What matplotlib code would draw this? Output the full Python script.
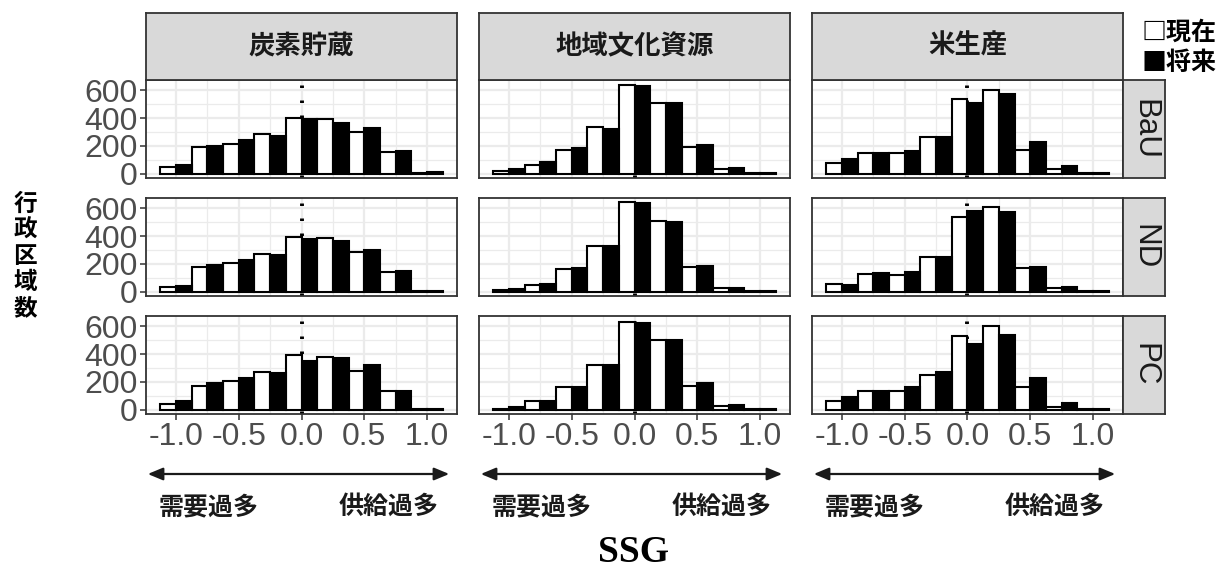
import numpy as np
import matplotlib
matplotlib.use('Agg')
import matplotlib.pyplot as plt

plt.rcParams['font.family'] = ['Liberation Sans', 'Noto Sans CJK JP', 'DejaVu Sans']
plt.rcParams['lines.scale_dashes'] = False

# bin centres (width 0.25)
bins = [-1.0, -0.75, -0.5, -0.25, 0.0, 0.25, 0.5, 0.75, 1.0]

# 炭素貯蔵
carbon_bau_now = [45, 190, 215, 287, 403, 396, 299, 154, 4]
carbon_bau_fut = [65, 195, 240, 272, 391, 367, 327, 161, 12]
carbon_nd_now = [30, 176, 208, 269, 392, 384, 282, 140, 3]
carbon_nd_fut = [40, 191, 225, 262, 380, 367, 299, 147, 5]
carbon_pc_now = [41, 173, 204, 274, 396, 382, 281, 137, 3]
carbon_pc_fut = [58, 190, 228, 266, 353, 370, 324, 137, 3]

# 地域文化資源
culture_bau_now = [20, 65, 173, 339, 640, 510, 190, 30, 4]
culture_bau_fut = [30, 80, 185, 322, 630, 505, 209, 40, 4]
culture_nd_now = [8, 49, 164, 326, 642, 509, 179, 25, 3]
culture_nd_fut = [18, 54, 167, 326, 638, 502, 186, 25, 3]
culture_pc_now = [6, 60, 166, 324, 634, 504, 173, 24, 3]
culture_pc_fut = [17, 65, 161, 322, 624, 500, 192, 31, 3]

# 米生産
rice_bau_now = [73, 145, 145, 263, 535, 604, 173, 35, 5]
rice_bau_fut = [102, 145, 160, 265, 505, 571, 225, 55, 5]
rice_nd_now = [56, 127, 122, 250, 539, 607, 167, 25, 3]
rice_nd_fut = [44, 135, 142, 250, 580, 571, 179, 30, 3]
rice_pc_now = [65, 132, 132, 250, 533, 605, 166, 17, 3]
rice_pc_fut = [94, 132, 161, 274, 473, 538, 228, 46, 3]

col_labels = ['炭素貯蔵', '地域文化資源', '米生産']
row_labels = ['BaU', 'ND', 'PC']
now_data = [[carbon_bau_now, culture_bau_now, rice_bau_now],
            [carbon_nd_now, culture_nd_now, rice_nd_now],
            [carbon_pc_now, culture_pc_now, rice_pc_now]]
fut_data = [[carbon_bau_fut, culture_bau_fut, rice_bau_fut],
            [carbon_nd_fut, culture_nd_fut, rice_nd_fut],
            [carbon_pc_fut, culture_pc_fut, rice_pc_fut]]

W, H = 1225, 578
fig = plt.figure(figsize=(W/100, H/100), dpi=100)

def rect(l, t, r, b):
    return [l/W, 1 - b/H, (r - l)/W, (b - t)/H]

col_left = [146, 479, 812]
pw = 311
row_top = [80, 198, 316]
ph = 98
dark = '#333333'
bw = 0.125

ymax = max(max(max(v) for v in r) for r in now_data + fut_data)
ylim = (-0.05*ymax, 1.05*ymax)
xlim = (-1.2375, 1.2375)

for i in range(3):
    for j in range(3):
        ax = fig.add_axes(rect(col_left[j], row_top[i], col_left[j] + pw, row_top[i] + ph))
        ax.set_xlim(xlim)
        ax.set_ylim(ylim)
        ax.set_axisbelow(True)
        ax.set_xticks([-1.0, -0.5, 0.0, 0.5, 1.0])
        ax.set_xticks([-0.75, -0.25, 0.25, 0.75], minor=True)
        ax.set_yticks([0, 200, 400, 600])
        ax.set_yticks([100, 300, 500], minor=True)
        ax.grid(True, which='major', color='#EBEBEB', lw=1.6)
        ax.grid(True, which='minor', color='#EBEBEB', lw=0.9)
        ax.axvline(0, color='black', lw=2.8, ls=(0, (1.8, 9)), zorder=1)
        c = np.array(bins)
        ax.bar(c - bw, now_data[i][j], width=bw, align='edge', color='white',
               edgecolor='black', lw=1.5, zorder=2)
        ax.bar(c, fut_data[i][j], width=bw, align='edge', color='black',
               edgecolor='black', lw=1.5, zorder=2)
        for s in ax.spines.values():
            s.set_color(dark)
            s.set_linewidth(1.3)
        ax.tick_params(which='minor', length=0)
        ax.tick_params(which='major', color=dark, length=4, width=1.1,
                       labelsize=23, labelcolor='#4D4D4D', pad=2)
        if j != 0:
            ax.tick_params(axis='y', length=0, labelleft=False)
        if i != 2:
            ax.tick_params(axis='x', length=0, labelbottom=False)
        else:
            ax.set_xticklabels(['-1.0', '-0.5', '0.0', '0.5', '1.0'])

# top strips
for j in range(3):
    sax = fig.add_axes(rect(col_left[j], 13, col_left[j] + pw, 80))
    sax.set_facecolor('#D9D9D9')
    sax.set_xticks([])
    sax.set_yticks([])
    for s in sax.spines.values():
        s.set_color(dark)
        s.set_linewidth(1.3)
    sax.text(0.5, 0.5, col_labels[j], ha='center', va='center', fontsize=19,
             fontweight='bold', color='#1A1A1A', family=['Noto Sans CJK JP'])

# right strips
for i in range(3):
    sax = fig.add_axes(rect(1123, row_top[i], 1165, row_top[i] + ph))
    sax.set_facecolor('#D9D9D9')
    sax.set_xticks([])
    sax.set_yticks([])
    for s in sax.spines.values():
        s.set_color(dark)
        s.set_linewidth(1.3)
    sax.text(0.5, 0.5, row_labels[i], ha='center', va='center', fontsize=22.5,
             rotation=-90, color='#1A1A1A')

# arrows and direction labels
cjk = ['Noto Sans CJK JP', 'DejaVu Sans']
for j in range(3):
    l = col_left[j]
    fig.add_artist(matplotlib.patches.FancyArrowPatch(
        ((l - 1)/W, 1 - 474/H), ((l + pw - 5)/W, 1 - 474/H),
        transform=fig.transFigure, arrowstyle='<|-|>,head_length=0.65,head_width=0.27',
        mutation_scale=14, color='#1A1A1A', lw=1.6))
    fig.text((l + 0.20*pw)/W, 1 - 507/H, '需要過多', ha='center', va='center',
             fontsize=18, fontweight='bold', color='#1A1A1A', family=cjk)
    fig.text((l + 0.78*pw)/W, 1 - 507/H, '供給過多', ha='center', va='center',
             fontsize=18, fontweight='bold', color='#1A1A1A', family=cjk)

fig.text(634/W, 1 - 552/H, 'SSG', ha='center', va='center', fontsize=27,
         fontweight='bold', family=['Liberation Serif'])
fig.text(25/W, 1 - 256/H, '行\n政\n区\n域\n数', ha='center', va='center',
         fontsize=17, fontweight='bold', linespacing=1.12, family=cjk)
fig.text(1142/W, 1 - 33/H, '□現在', ha='left', va='center', fontsize=18,
         fontweight='bold', family=cjk)
fig.text(1142/W, 1 - 63/H, '■将来', ha='left', va='center', fontsize=18,
         fontweight='bold', family=cjk)

fig.savefig('out.png', dpi=100)
